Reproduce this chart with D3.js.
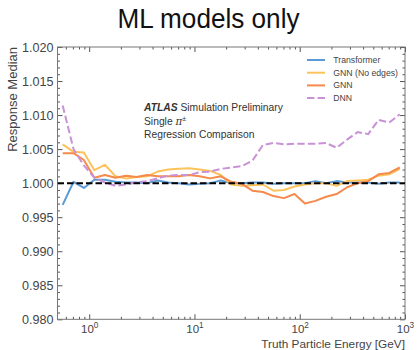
<!DOCTYPE html>
<html>
<head>
<meta charset="utf-8">
<script src="https://cdn.jsdelivr.net/npm/d3@7"></script>
<style>
  html, body { margin: 0; padding: 0; background: #fff; }
  svg { display: block; font-family: "Liberation Sans", Arial, sans-serif; }
</style>
</head>
<body>
<svg id="chart" width="417" height="350"></svg>
<script>
// Bin centres of truth particle energy [GeV]
const energy = [0.56, 0.71, 0.89, 1.12, 1.41, 1.78, 2.24, 2.82, 3.55, 4.47, 5.62,
  7.08, 8.91, 11.2, 14.1, 17.8, 22.4, 28.2, 35.5, 44.7, 56.2, 70.8, 89.1,
  112, 141, 178, 224, 282, 355, 447, 562, 708, 891];

// Median response per energy bin for each model
const transformer = [0.9968, 1.0002, 0.9993, 1.0005, 1.0005, 1.0002, 1.0001, 1.0001, 1.0000, 1.0004, 1.0001,
  1.0000, 0.9998, 0.9999, 1.0000, 1.0004, 1.0000, 1.0000, 1.0001, 1.0001, 0.9999, 1.0000, 1.0000,
  1.0000, 1.0003, 1.0000, 1.0003, 1.0001, 1.0001, 1.0001, 0.9999, 1.0001, 1.0001];
const gnnNoEdges = [1.0057, 1.0046, 1.0045, 1.0019, 1.0027, 1.0010, 1.0007, 1.0009, 1.0010, 1.0017, 1.0020,
  1.0021, 1.0022, 1.0020, 1.0018, 1.0012, 0.9998, 0.9996, 0.9997, 0.9998, 0.9989, 0.9990, 0.9995,
  0.9998, 1.0000, 1.0000, 0.9996, 1.0003, 1.0004, 1.0005, 1.0011, 1.0013, 1.0021];
const gnn = [1.0044, 1.0044, 1.0034, 1.0008, 1.0012, 1.0008, 1.0011, 1.0009, 1.0012, 1.0010, 1.0010,
  1.0010, 1.0012, 1.0010, 1.0007, 1.0010, 1.0002, 0.9999, 0.9989, 0.9987, 0.9981, 0.9978, 0.9984,
  0.9970, 0.9974, 0.9980, 0.9984, 0.9994, 1.0000, 1.0003, 1.0013, 1.0015, 1.0023];
const dnn = [1.0114, 1.0050, 1.0026, 1.0008, 1.0001, 0.9996, 0.9998, 1.0001, 1.0003, 1.0007, 1.0011,
  1.0012, 1.0012, 1.0016, 1.0017, 1.0021, 1.0023, 1.0025, 1.0033, 1.0056, 1.0059, 1.0057, 1.0058,
  1.0058, 1.0058, 1.0059, 1.0052, 1.0064, 1.0075, 1.0072, 1.0093, 1.0089, 1.0101];

const seriesNames = ["Transformer", "GNN (No edges)", "GNN", "DNN"];
const seriesValues = [transformer, gnnNoEdges, gnn, dnn];
const seriesColors = ["#5b9bd5", "#fcc35c", "#f58a4c", "#c991d6"];
const seriesDash = [null, null, null, "7.4,3.2"];

const xDomain = [0.5, 1000];
const yDomain = [0.98, 1.02];
const yMajorTicks = [0.980, 0.985, 0.990, 0.995, 1.000, 1.005, 1.010, 1.015, 1.020];
const xMajorTicks = [1, 10, 100, 1000];
const referenceValue = 1.0;

const svg = d3.select("#chart");
const plot = { left: 57.5, right: 405, top: 47, bottom: 319.3 };

const x = d3.scaleLog().domain(xDomain).range([plot.left, plot.right]);
const y = d3.scaleLinear().domain(yDomain).range([plot.bottom, plot.top]);

const tickColor = "#555";
const labelColor = "#444";

// Title
svg.append("text")
  .attr("x", 208.5).attr("y", 28.3)
  .attr("text-anchor", "middle")
  .attr("font-size", 27)
  .attr("textLength", 182).attr("lengthAdjust", "spacingAndGlyphs")
  .attr("fill", "#111")
  .text("ML models only");

// Minor tick positions
const yMinor = d3.range(0, 41).map(i => 0.98 + i * 0.001).filter(v => Math.abs(Math.round(v * 200) - v * 200) > 1e-6);
const xMinor = x.ticks().filter(v => !xMajorTicks.includes(v) && v > xDomain[0]);

function styleAxis(g) {
  g.select(".domain").remove();
  g.selectAll(".tick line").attr("stroke", tickColor).attr("stroke-width", 1);
}

// Left axis (major + minor, inward)
svg.append("g").attr("transform", `translate(${plot.left},0)`)
  .call(d3.axisLeft(y).tickValues(yMajorTicks).tickSizeInner(-5).tickSizeOuter(0).tickPadding(4)
    .tickFormat(d3.format(".3f")))
  .call(styleAxis)
  .call(g => g.selectAll("text").attr("font-size", 12.6).attr("fill", labelColor)
    .attr("font-family", "Liberation Sans, Arial, sans-serif"));
svg.append("g").attr("transform", `translate(${plot.left},0)`)
  .call(d3.axisLeft(y).tickValues(yMinor).tickSizeInner(-2.5).tickSizeOuter(0).tickFormat(""))
  .call(styleAxis);

// Right axis (ticks only, inward)
svg.append("g").attr("transform", `translate(${plot.right},0)`)
  .call(d3.axisRight(y).tickValues(yMajorTicks).tickSizeInner(-5).tickSizeOuter(0).tickFormat(""))
  .call(styleAxis);
svg.append("g").attr("transform", `translate(${plot.right},0)`)
  .call(d3.axisRight(y).tickValues(yMinor).tickSizeInner(-2.5).tickSizeOuter(0).tickFormat(""))
  .call(styleAxis);

// Bottom axis with power-of-ten labels
const bottom = svg.append("g").attr("transform", `translate(0,${plot.bottom})`)
  .call(d3.axisBottom(x).tickValues(xMajorTicks).tickSizeInner(-5).tickSizeOuter(0).tickFormat(d => d))
  .call(styleAxis);
bottom.selectAll(".tick text").each(function(d) {
  const t = d3.select(this);
  t.text(null).attr("y", 14).attr("dy", 0).attr("fill", labelColor)
    .attr("font-family", "Liberation Sans, Arial, sans-serif")
    .attr("text-anchor", "middle");
  t.append("tspan").attr("font-size", 11.5).text("10");
  t.append("tspan").attr("font-size", 8.2).attr("dy", -5).text(Math.round(Math.log10(d)));
});
svg.append("g").attr("transform", `translate(0,${plot.bottom})`)
  .call(d3.axisBottom(x).tickValues(xMinor).tickSizeInner(-2.5).tickSizeOuter(0).tickFormat(""))
  .call(styleAxis);

// Top axis (ticks only)
svg.append("g").attr("transform", `translate(0,${plot.top})`)
  .call(d3.axisTop(x).tickValues(xMajorTicks).tickSizeInner(-5).tickSizeOuter(0).tickFormat(""))
  .call(styleAxis);
svg.append("g").attr("transform", `translate(0,${plot.top})`)
  .call(d3.axisTop(x).tickValues(xMinor).tickSizeInner(-2.5).tickSizeOuter(0).tickFormat(""))
  .call(styleAxis);

// Frame
svg.append("rect")
  .attr("x", plot.left).attr("y", plot.top)
  .attr("width", plot.right - plot.left).attr("height", plot.bottom - plot.top)
  .attr("fill", "none").attr("stroke", "#777").attr("stroke-width", 1);

// Axis titles
svg.append("text")
  .attr("transform", `translate(17,${plot.top}) rotate(-90)`)
  .attr("text-anchor", "end")
  .attr("font-size", 13).attr("fill", labelColor)
  .text("Response Median");
svg.append("text")
  .attr("x", plot.right).attr("y", 347.5)
  .attr("text-anchor", "end")
  .attr("font-size", 11.8).attr("fill", labelColor)
  .text("Truth Particle Energy [GeV]");

// Series lines
const clip = svg.append("clipPath").attr("id", "plotclip").append("rect")
  .attr("x", plot.left).attr("y", plot.top)
  .attr("width", plot.right - plot.left).attr("height", plot.bottom - plot.top);
const lines = svg.append("g").attr("clip-path", "url(#plotclip)");
const line = d3.line().x(d => x(d[0])).y(d => y(d[1]));

seriesValues.forEach((vals, k) => {
  lines.append("path")
    .datum(energy.map((e, i) => [e, vals[i]]))
    .attr("d", line)
    .attr("fill", "none")
    .attr("stroke", seriesColors[k])
    .attr("stroke-width", 2)
    .attr("stroke-linejoin", "round")
    .attr("stroke-dasharray", seriesDash[k]);
});

// Reference line at unit response
lines.append("line")
  .attr("x1", plot.left).attr("x2", plot.right)
  .attr("y1", y(referenceValue)).attr("y2", y(referenceValue))
  .attr("stroke", "#000").attr("stroke-width", 2)
  .attr("stroke-dasharray", "6.5,3");

// Legend
const legend = svg.append("g");
seriesNames.forEach((name, k) => {
  const ly = 60 + k * 12.7;
  legend.append("line")
    .attr("x1", 307).attr("x2", 325).attr("y1", ly).attr("y2", ly)
    .attr("stroke", seriesColors[k]).attr("stroke-width", 2)
    .attr("stroke-dasharray", seriesDash[k]);
  legend.append("text")
    .attr("x", 333.3).attr("y", ly).attr("dy", "0.35em")
    .attr("font-size", 8.7).attr("fill", labelColor)
    .text(name);
});

// ATLAS label block
const note = svg.append("g").attr("fill", "#333").attr("font-size", 10.3);
const l1 = note.append("text").attr("x", 144).attr("y", 111);
l1.append("tspan").attr("font-weight", "bold").attr("font-style", "italic").text("ATLAS");
l1.append("tspan").text(" Simulation Preliminary");
const l2 = note.append("text").attr("x", 144).attr("y", 124.5);
l2.append("tspan").text("Single ");
l2.append("tspan").attr("font-family", "DejaVu Serif, serif").attr("font-style", "italic").text("π");
l2.append("tspan").attr("font-size", 7).attr("dy", -4).text("±");
note.append("text").attr("x", 144).attr("y", 138).text("Regression Comparison");
</script>
</body>
</html>
